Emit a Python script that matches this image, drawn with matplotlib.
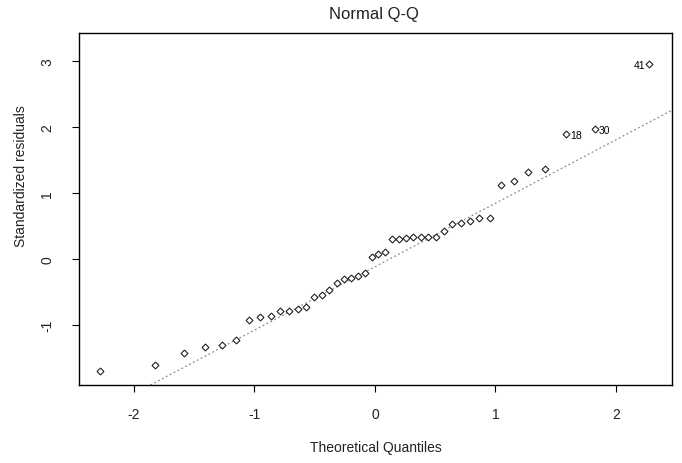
import matplotlib
matplotlib.use("Agg")
import matplotlib.pyplot as plt

plt.rcParams['font.family'] = ['Liberation Sans', 'DejaVu Sans']

# theoretical normal quantiles, n = 44
half = [-2.278, -1.824, -1.582, -1.408, -1.269, -1.150, -1.046, -0.952,
        -0.866, -0.786, -0.711, -0.639, -0.571, -0.505, -0.441, -0.379,
        -0.319, -0.259, -0.201, -0.143, -0.086, -0.0285]
theo = half + [-v for v in half[::-1]]

# sorted standardized residuals
resid = [-1.70, -1.61, -1.42, -1.34, -1.31, -1.22, -0.92, -0.88, -0.86, -0.79,
         -0.78, -0.76, -0.72, -0.58, -0.55, -0.47, -0.37, -0.30, -0.28, -0.25,
         -0.21, 0.035, 0.07, 0.11, 0.31, 0.31, 0.32, 0.33, 0.34, 0.34,
         0.34, 0.43, 0.53, 0.545, 0.575, 0.62, 0.63, 1.12, 1.18, 1.32,
         1.37, 1.905, 1.98, 2.965]

# labelled points: (index in sorted order, label, side)
ids = [(41, '18', 'r'), (42, '30', 'r'), (43, '41', 'l')]

# qqline through the quartiles
q1, q3 = -0.765, 0.534
slope = (q3 - q1) / (2 * 0.6745)
inter = q1 + slope * 0.6745

W, H = 682, 464
fig = plt.figure(figsize=(W / 100, H / 100), dpi=100)
ax = fig.add_axes([79 / W, 1 - 386 / H, (672 - 79) / W, (386 - 34) / H])

ax.axline((0, inter), slope=slope, color='#8c8c8c', lw=0.9, ls=(0, (1.5, 2)))
ax.plot(theo, resid, ls='none', marker='D', ms=3.5, mfc='white', mec='#222222', mew=0.8)

for i, lab, side in ids:
    if side == 'r':
        ax.annotate(lab, (theo[i], resid[i]), xytext=(3, -1), textcoords='offset points',
                    ha='left', va='center', fontsize=7.5)
    else:
        ax.annotate(lab, (theo[i], resid[i]), xytext=(-3, -1), textcoords='offset points',
                    ha='right', va='center', fontsize=7.5)

ax.set_xlim(-2.456, 2.465)
ax.set_ylim(-1.91, 3.43)
ax.set_xticks([-2, -1, 0, 1, 2])
ax.set_yticks([-1, 0, 1, 2, 3])
ax.set_xticklabels(['-2', '-1', '0', '1', '2'])
ax.set_yticklabels(['-1', '0', '1', '2', '3'], rotation=90, va='center')
ax.tick_params(direction='out', length=5, width=0.8, labelsize=10, color='black',
               labelcolor='#222222')
ax.tick_params(axis='x', pad=11)
ax.tick_params(axis='y', pad=13)
for s in ax.spines.values():
    s.set_linewidth(1.0)
    s.set_color('black')

fig.text(374 / W, 1 - 15 / H, 'Normal Q-Q', ha='center', va='center', fontsize=12,
         color='#222222')
fig.text(376 / W, 1 - 448 / H, 'Theoretical Quantiles', ha='center', va='center',
         fontsize=10, color='#222222')
fig.text(21 / W, 1 - 176 / H, 'Standardized residuals', ha='center', va='center',
         rotation=90, fontsize=10, color='#222222')

fig.savefig('out.png', dpi=100)
